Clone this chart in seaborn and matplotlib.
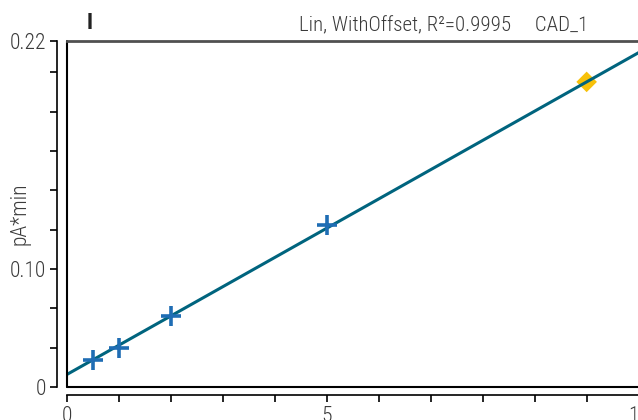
import numpy as np
import matplotlib
matplotlib.use("Agg")
import matplotlib.pyplot as plt
import seaborn as sns
import pandas as pd
from matplotlib.ticker import MultipleLocator, FixedLocator

# calibration points (amount vs area)
amount = [0.5, 1.0, 2.0, 5.0]
area = [0.0172, 0.0248, 0.0451, 0.103]
# current sample
sample_x = [10.0]
sample_y = [0.194]
# fit: linear with offset
fit_x = [0.0, 11.2]
fit_y = [0.008, 0.008 + 0.0186 * 11.2]

ytick_vals = [0.0, 0.075, 0.22]
ytick_labels = ["0", "0.10", "0.22"]
xtick_vals = [0, 5, 11]
xtick_labels = ["0", "5", "11"]

sns.set_theme(style="white")
plt.rcParams['font.family'] = ['Roboto Condensed', 'Archivo Narrow', 'PT Sans Narrow',
                               'Liberation Sans Narrow', 'DejaVu Sans']

fig = plt.figure(figsize=(6.38, 4.2), dpi=100)
W, H = 638, 420
ax = fig.add_axes([67 / W, 33 / H, 582 / W, 346 / H])

cal = pd.DataFrame({"x": amount, "y": area})
fit = pd.DataFrame({"x": fit_x, "y": fit_y})
smp = pd.DataFrame({"x": sample_x, "y": sample_y})

sns.lineplot(data=fit, x="x", y="y", ax=ax, color="#00647e", lw=2.2, zorder=2)
sns.scatterplot(data=cal, x="x", y="y", ax=ax, marker="+", s=220, color="#1f6db4",
                linewidth=2.6, zorder=3)
sns.scatterplot(data=smp, x="x", y="y", ax=ax, marker="D", s=110, color="#f7c10a",
                edgecolor="none", zorder=1)

ax.set_xlim(0, 11.2)
ax.set_ylim(0, 0.22)

# offset axis lines
ax.spines['left'].set_position(('outward', 7))
ax.spines['bottom'].set_position(('outward', 6))
for s in ['left', 'bottom']:
    ax.spines[s].set_color('black')
    ax.spines[s].set_linewidth(1.2)
ax.spines['top'].set_color('#505050')
ax.spines['top'].set_linewidth(2.0)
ax.spines['right'].set_visible(False)
# frame lines of the plot area
ax.plot([0, 0], [0, 1], transform=ax.transAxes, color='black', lw=1.5, clip_on=False)
ax.plot([0, 1], [0, 0], transform=ax.transAxes, color='black', lw=1.5, clip_on=False)

ax.yaxis.set_major_locator(FixedLocator(ytick_vals))
ax.set_yticklabels(ytick_labels)
ax.yaxis.set_minor_locator(MultipleLocator(0.025))
ax.xaxis.set_major_locator(FixedLocator(xtick_vals))
ax.set_xticklabels(xtick_labels)
ax.xaxis.set_minor_locator(MultipleLocator(1))
ax.tick_params(which='both', direction='out', length=5, width=1.2, color='black',
               left=True, bottom=True, labelsize=15.5, labelcolor='#3a3a3a', pad=3)
for lab in ax.get_xticklabels() + ax.get_yticklabels():
    lab.set_fontweight('light')

ax.set_xlabel("")
ax.set_ylabel("pA*min", fontsize=15.5, color='#3a3a3a', fontweight='light')
ax.yaxis.set_label_coords((31 - 67) / 582, 0.5)

fig.text(588 / W, 1 - 31 / H, "Lin, WithOffset, R²=0.9995     CAD_1", ha='right',
         va='baseline', fontsize=15, color='#3a3a3a', fontweight='light')
fig.text(90 / W, 1 - 29 / H, "I", ha='center', va='baseline', fontsize=16,
         fontweight='bold', color='#222222')

fig.savefig("out.png", dpi=100)
